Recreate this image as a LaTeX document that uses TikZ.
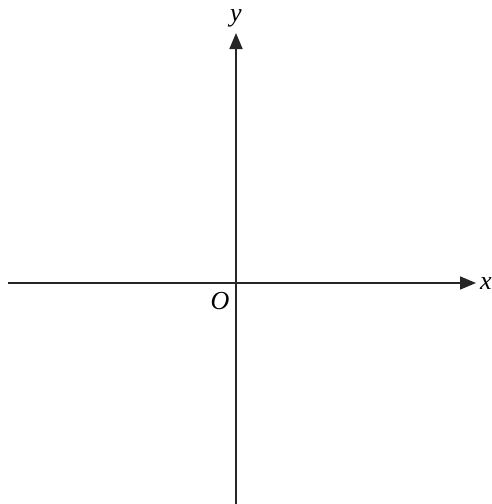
\documentclass[tikz,border=0pt]{standalone}
\usepackage{fontspec}
\setmainfont{Liberation Serif}
\usetikzlibrary{arrows.meta,positioning}
\tikzset{
  axline/.style={draw=black!85,line width=1.6pt,-{Triangle[length=16pt,width=13pt]}},
  axlabel/.style={font=\itshape\fontsize{26}{28}\selectfont,inner sep=0pt}
}
\begin{document}
\begin{tikzpicture}[x=1pt,y=-1pt]
  \useasboundingbox (0,0) rectangle (491,504);
  \coordinate (xstart) at (8,283);
  \coordinate (xend) at (476,283);
  \coordinate (ystart) at (236,504);
  \coordinate (yend) at (236,33);
  \draw[axline] (xstart) -- (xend);
  \draw[axline] (ystart) -- (yend);
  \node[axlabel] (xlab) at (486,284) {x};
  \node[axlabel] (ylab) at (236,18) {y};
  \node[axlabel] (orig) at (220,301) {O};
\end{tikzpicture}
\end{document}
